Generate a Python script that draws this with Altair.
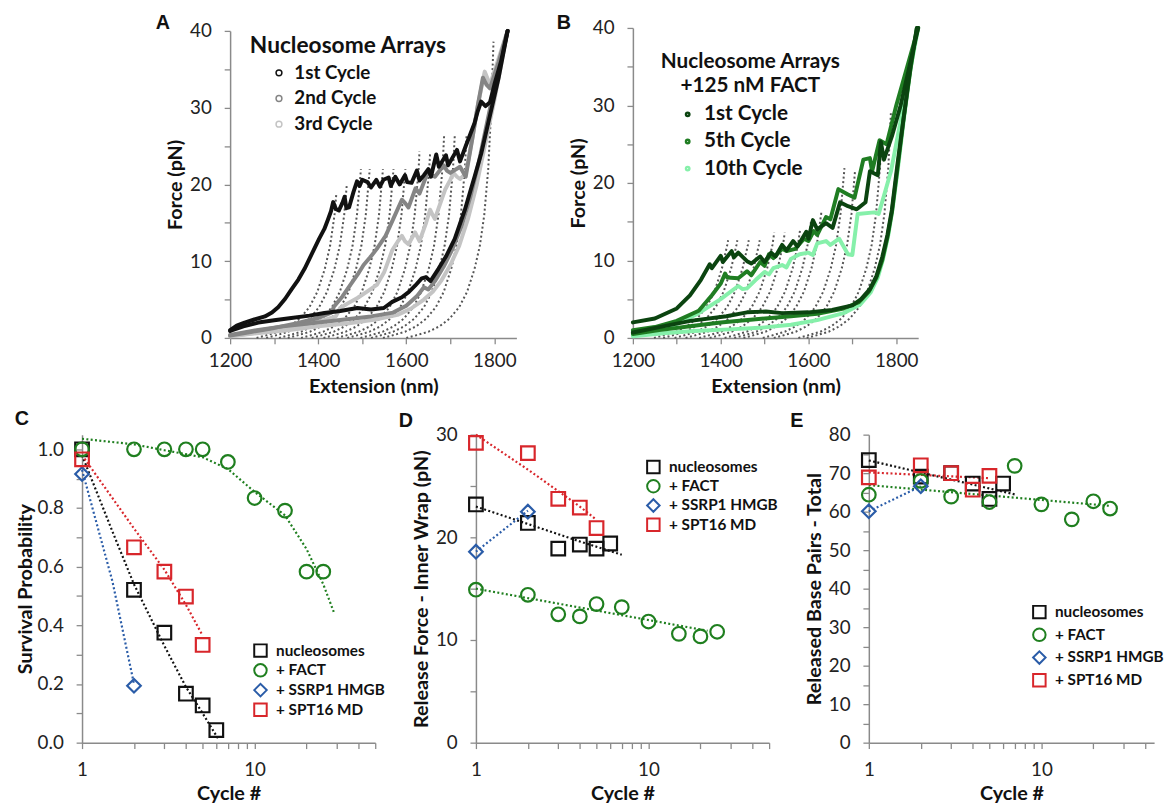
import altair as alt
import pandas as pd

FONT = "Lato"
W, H = 1160, 739

# ---------------- Panel A : force-extension, nucleosome arrays ----------------
A_SERIES = ["1st Cycle", "2nd Cycle", "3rd Cycle"]
A_COLORS = ["#111111", "#858585", "#c4c4c4"]

A1_S_EXT = [1200,1215,1233,1255,1279,1295,1309,1325,1339,1355,1369,1380,1391,1402,1414,1422,1429,1434,1440,1447,1455,1460,1464,1470,1480,1488,1494,1500,1512,1520,1532,1540,1548,1560,1565,1575,1585,1597,1602,1612,1624,1630,1640,1650,1656,1668,1674,1690,1695,1715,1722,1735,1745,1755,1762,1770,1780,1790,1800,1815,1830]
A1_S_F = [1.0,1.6,2.0,2.4,2.8,3.3,4.0,5.1,6.3,7.6,9.0,10.3,11.6,12.9,14.2,15.4,16.5,17.7,16.8,16.6,17.6,18.4,16.9,17.0,19.0,20.4,19.8,20.6,20.3,19.6,20.6,19.7,20.6,20.9,19.8,21.0,20.0,21.2,20.3,20.2,21.8,20.5,21.2,22.0,21.0,23.9,22.3,23.8,22.5,24.5,23.0,25.0,26.5,28.0,29.5,30.8,30.2,30.7,33.0,36.0,40.0]
A1_R_EXT = [1200,1230,1264,1300,1339,1380,1414,1450,1489,1520,1549,1568,1590,1606,1620,1635,1645,1655,1673,1690,1710,1733,1755,1770,1790,1810,1830]
A1_R_F = [0.9,1.5,2.0,2.3,2.6,2.9,3.25,3.5,3.9,3.7,3.9,4.7,5.3,6.0,6.8,7.75,7.9,7.4,9.0,10.6,12.9,16.7,21.0,24.0,29.0,34.0,40.0]
A2_S_EXT = [1200,1250,1300,1350,1400,1430,1436,1455,1473,1490,1503,1518,1533,1553,1572,1590,1597,1605,1621,1630,1651,1658,1665,1685,1692,1700,1722,1735,1750,1763,1774,1782,1790,1810,1830]
A2_S_F = [0.3,0.8,1.3,1.9,2.6,3.3,4.1,5.4,6.9,8.3,9.5,10.5,11.6,13.3,15.7,18.0,17.6,17.0,19.5,18.8,21.9,21.2,21.0,22.5,21.8,21.5,22.3,21.0,26.0,30.5,33.9,33.0,32.5,36.0,40.0]
A2_R_EXT = [1200,1260,1320,1400,1460,1520,1570,1600,1625,1640,1650,1665,1685,1705,1725,1745,1765,1785,1805,1830]
A2_R_F = [0.4,1.0,1.5,2.0,2.4,2.8,3.3,4.2,5.5,6.6,6.3,7.4,9.3,11.6,14.5,18.3,23.0,28.5,34.0,40.0]
A3_S_EXT = [1200,1250,1300,1350,1400,1440,1450,1470,1489,1510,1533,1550,1568,1580,1590,1597,1605,1620,1630,1645,1654,1660,1665,1677,1688,1700,1707,1715,1722,1735,1750,1763,1778,1790,1810,1830]
A3_S_F = [0.2,0.6,1.0,1.5,2.1,2.8,3.9,4.6,5.2,6.0,6.9,8.6,11.4,12.5,13.3,12.6,12.2,13.75,12.6,15.0,16.7,16.0,15.5,17.5,19.3,20.6,21.5,21.0,20.7,21.4,26.0,30.5,34.7,33.0,36.5,40.0]
A3_R_EXT = [1200,1260,1330,1400,1470,1530,1580,1610,1640,1660,1680,1700,1720,1740,1760,1780,1800,1815,1830]
A3_R_F = [0.2,0.6,1.0,1.5,1.9,2.4,3.0,3.8,5.0,6.0,7.5,9.5,12.0,15.5,20.0,25.5,31.0,35.5,40.0]

# dotted model curves: one shape, plus each curve's shift and top
BASE_F = [0, 0.3, 0.8, 1.5, 2.5, 4, 6, 9, 12, 16, 22, 30, 38.6]
BASE_X = [1600, 1620, 1650, 1675, 1698, 1720, 1738, 1755, 1767, 1777, 1786, 1793, 1798]
A_DOT_SHIFT = [0, -53, -80, -104, -134, -158, -188, -215, -239, -269, -289, -318, -340]
A_DOT_TOP_X = [1798, 1737, 1710, 1686, 1654, 1630, 1598, 1571, 1547, 1517, 1497, 1465, 1441]
A_DOT_TOP_F = [38.6, 26.6, 26.3, 26.5, 24.0, 24.3, 22.0, 22.0, 22.0, 22.0, 22.0, 20.0, 18.7]

# ---------------- Panel B : + FACT ----------------
B_SERIES = ["1st  Cycle", "5th Cycle", "10th Cycle"]
B_COLORS = ["#0b4410", "#1f7d22", "#86f0aa"]

B1_S_EXT = [1200,1250,1300,1330,1355,1375,1380,1400,1405,1425,1430,1440,1460,1470,1490,1500,1515,1525,1540,1550,1565,1575,1595,1600,1610,1620,1640,1655,1672,1690,1710,1730,1740,1758,1765,1772,1790,1810,1830,1850]
B1_S_F = [2.0,2.5,3.8,5.5,7.5,9.5,9.0,10.6,9.8,11.2,10.4,11.0,9.9,9.6,10.5,9.8,11.0,10.5,12.0,11.3,12.5,11.8,13.7,12.8,15.2,14.0,14.8,14.2,17.5,17.0,16.6,17.5,21.5,21.0,25.3,23.0,26.0,30.0,35.0,40.0]
B1_R_EXT = [1200,1260,1331,1413,1460,1503,1540,1600,1654,1700,1720,1740,1755,1768,1780,1790,1803,1818,1833,1847]
B1_R_F = [0.7,1.4,2.2,2.8,3.3,3.4,3.2,3.3,3.6,4.2,5.0,6.3,8.0,10.4,13.3,16.5,22.5,28.9,35.3,40.0]
B5_S_EXT = [1200,1250,1300,1350,1380,1400,1410,1415,1440,1460,1470,1490,1500,1510,1520,1540,1550,1570,1590,1600,1612,1620,1640,1650,1668,1690,1705,1725,1740,1745,1762,1778,1800,1825,1850]
B5_S_F = [1.0,1.4,2.2,3.5,5.5,7.0,8.3,7.8,7.7,8.6,8.1,9.8,9.3,10.8,10.3,11.5,11.2,11.5,12.8,12.5,13.8,13.3,15.6,15.3,19.2,18.5,18.1,23.0,23.2,21.5,25.5,25.0,30.0,35.0,40.0]
B5_R_EXT = [1200,1260,1330,1400,1480,1560,1620,1680,1715,1738,1755,1768,1780,1790,1802,1816,1832,1847]
B5_R_F = [0.5,1.0,1.5,2.0,2.4,2.8,3.1,3.8,4.6,6.0,7.8,10.0,13.0,16.2,21.5,28.0,34.5,40.0]
B10_S_EXT = [1200,1250,1300,1350,1400,1440,1450,1460,1480,1500,1510,1520,1540,1550,1560,1580,1600,1610,1620,1640,1650,1670,1690,1700,1712,1750,1760,1788,1810,1830,1850]
B10_S_F = [0.3,1.0,1.8,3.2,5.0,6.7,6.3,6.4,7.5,8.5,8.2,9.0,9.4,9.1,10.2,10.8,11.0,10.7,12.2,12.5,12.0,12.8,10.8,10.7,16.0,16.2,16.0,21.5,28.0,34.0,40.0]
B10_R_EXT = [1200,1270,1339,1420,1489,1560,1620,1680,1718,1742,1758,1770,1782,1792,1804,1818,1833,1848]
B10_R_F = [0.2,0.6,0.9,1.1,1.3,1.7,2.3,3.2,4.3,5.9,7.8,10.2,13.3,16.8,22.0,28.5,35.0,40.0]

B_DOT_SHIFT = [-352, -331, -305, -280, -249, -225, -191, -169, -148, -104, -79, -23, -4]
B_DOT_TOP_X = [1417, 1438, 1464, 1489, 1522, 1546, 1581, 1606, 1629, 1682, 1706, 1765, 1788]
B_DOT_TOP_F = [12.6, 12.6, 12.6, 12.6, 13.6, 13.6, 14.0, 15.1, 16.2, 21.9, 21.5, 24.5, 29.3]

# ---------------- Panels C, D, E ----------------
SERIES = ["nucleosomes", "+ FACT", "+ SSRP1 HMGB", "+ SPT16 MD"]
S_COLORS = ["#111111", "#1f7f1f", "#2a5ca8", "#d8262b"]
S_SHAPES = ["square", "circle", "diamond", "square"]

NUC_X = [1, 2, 3, 4, 5, 6]
FACT_X = [1, 2, 3, 4, 5, 7, 10, 15, 20, 25]
SSRP_X = [1, 2]
SPT_X = [1, 2, 3, 4, 5]

C_NUC = [1.0, 0.521, 0.375, 0.167, 0.127, 0.043]
C_FACT = [1.0, 1.0, 1.0, 1.0, 1.0, 0.957, 0.834, 0.791, 0.583, 0.583]
C_SSRP = [0.916, 0.194]
C_SPT = [0.966, 0.666, 0.583, 0.498, 0.333]
C_FIT = {
    "nucleosomes": ([1, 1.5, 2, 3, 4, 5, 6.2], [0.98, 0.72, 0.54, 0.33, 0.19, 0.10, 0.01]),
    "+ FACT": ([1, 2, 3, 5, 7, 10, 15, 20, 25, 29], [1.036, 1.017, 0.997, 0.973, 0.933, 0.855, 0.775, 0.66, 0.54, 0.44]),
    "+ SSRP1 HMGB": ([1, 1.5, 2], [0.93, 0.55, 0.2]),
    "+ SPT16 MD": ([1, 2, 3, 4, 5], [0.98, 0.73, 0.59, 0.47, 0.365]),
}

D_NUC = [23.2, 21.4, 18.9, 19.3, 18.9, 19.4]
D_FACT = [14.9, 14.4, 12.5, 12.3, 13.5, 13.2, 11.8, 10.6, 10.35, 10.8]
D_SSRP = [18.6, 22.5]
D_SPT = [29.2, 28.2, 23.75, 22.9, 20.9]
D_FIT = {
    "nucleosomes": ([1, 2, 4, 7], [23.0, 21.3, 19.6, 18.3]),
    "+ FACT": ([1, 22], [15.0, 10.9]),
    "+ SSRP1 HMGB": ([1, 2], [18.6, 22.6]),
    "+ SPT16 MD": ([1, 2, 3, 4, 5], [30.0, 26.6, 24.5, 23.0, 21.7]),
}

E_FACT_X = [1, 2, 3, 5, 7, 10, 15, 20, 25]
E_NUC = [73.4, 69.1, 70.0, 67.3, 63.3, 67.3]
E_FACT = [64.4, 68.0, 63.9, 62.5, 71.9, 61.9, 58.0, 62.7, 60.8]
E_SSRP = [60.1, 66.6]
E_SPT = [68.9, 72.05, 70.0, 65.7, 69.3]
E_FIT = {
    "nucleosomes": ([1, 7], [73.3, 64.5]),
    "+ FACT": ([1, 25], [66.9, 61.5]),
    "+ SSRP1 HMGB": ([1, 2], [60.1, 66.6]),
    "+ SPT16 MD": ([1, 5], [70.2, 68.7]),
}


# ---------------- helpers ----------------
def trace_df(parts):
    frames = []
    for series, seg, ext, force in parts:
        frames.append(pd.DataFrame({"ext": ext, "force": force, "series": series,
                                    "seg": seg, "i": list(range(len(ext)))}))
    return pd.concat(frames, ignore_index=True)


def dotted_df(shifts, top_x, top_f, prefix):
    rows = []
    for k, (sh, tx, tf) in enumerate(zip(shifts, top_x, top_f)):
        pts = [(bx + sh, bf) for bx, bf in zip(BASE_X, BASE_F) if bf < tf] + [(tx, tf)]
        for j, (x, f) in enumerate(pts):
            rows.append({"ext": x, "force": f, "curve": f"{prefix}{k}", "i": j})
    return pd.DataFrame(rows)


def points_df(xs_list, ys_list):
    frames = []
    for name, xs, ys in zip(SERIES, xs_list, ys_list):
        frames.append(pd.DataFrame({"cycle": xs, "val": ys, "series": name}))
    return pd.concat(frames, ignore_index=True)


AX = dict(domainColor="#8a8a8a", domainWidth=1.5, tickColor="#8a8a8a", tickWidth=1.3, tickSize=6,
          labelFont=FONT, labelFontSize=19, labelColor="#222222", labelFlush=False, labelOverlap=False,
          titleFont=FONT, titleFontSize=20, titleFontWeight="bold", titleColor="#111111", grid=False)


def text_layer(txt, x, y, size, align="center", font=FONT):
    return alt.Chart(pd.DataFrame({"t": [txt]})).mark_text(
        font=font, fontSize=size, fontWeight="bold", align=align, baseline="middle", color="#111111"
    ).encode(text="t:N", x=alt.value(x), y=alt.value(y))


def fe_panel(left, right, top, dots, traces, series, colors, legend, letter, heads):
    sx = alt.Scale(domain=[1200, 1850], range=[left, right], nice=False, zero=False)
    sy = alt.Scale(domain=[0, 40], range=[329, top], nice=False, zero=False)
    ax_x = alt.Axis(orient="bottom", offset=329 - H, values=list(range(1200, 1801, 100)), format="d",
                    labelExpr="datum.value % 200 === 0 ? datum.label : ''", title="Extension (nm)",
                    labelPadding=8, titlePadding=6, **AX)
    ax_y = alt.Axis(orient="left", offset=-left, values=list(range(0, 41, 5)), format="d",
                    labelExpr="datum.value % 10 === 0 ? datum.label : ''", title="Force (pN)",
                    labelPadding=13, titlePadding=4, **AX)
    dot = alt.Chart(dots).mark_line(color="#555555", strokeWidth=2, strokeDash=[2, 2.6]).encode(
        x=alt.X("ext:Q", scale=sx, axis=ax_x),
        y=alt.Y("force:Q", scale=sy, axis=ax_y),
        detail="curve:N", order="i:Q")
    tr = alt.Chart(traces).mark_line(strokeWidth=4, strokeJoin="round", strokeCap="round").encode(
        x=alt.X("ext:Q", scale=sx, axis=ax_x),
        y=alt.Y("force:Q", scale=sy, axis=ax_y),
        color=alt.Color("series:N", scale=alt.Scale(domain=series, range=colors), legend=legend),
        detail="seg:N", order="i:Q")
    layers = [dot, tr, text_layer(letter[0], letter[1], letter[2], 20, font="Liberation Sans")]
    for h in heads:
        layers.append(text_layer(*h))
    return alt.layer(*layers)


def cyc_panel(left, domain_max, ymax, yvals, ylab_expr, ytitle, pts, fits, legend, letter, ytp):
    import math
    width = 174.8 * math.log10(domain_max)
    sx = alt.Scale(type="log", domain=[1, domain_max], range=[left, left + width], nice=False, zero=False)
    sy = alt.Scale(domain=[0, ymax], range=[739, 427], nice=False, zero=False)
    xv = [1, 2, 3, 4, 5, 6, 7, 8, 9, 10, 20, 30, 40, 50]
    xv = [v for v in xv if v <= domain_max]
    ax_x = alt.Axis(orient="bottom", offset=0, values=xv,
                    labelExpr="datum.value === 1 ? '1' : (datum.value === 10 ? '10' : '')",
                    title="Cycle #", labelPadding=12, titlePadding=5, **AX)
    ax_y = alt.Axis(orient="left", offset=-left, values=yvals, labelExpr=ylab_expr, title=ytitle,
                    labelPadding=13, titlePadding=ytp, **AX)
    layers = []
    for name, col in zip(SERIES, S_COLORS):
        xs, ys = fits[name]
        fd = pd.DataFrame({"cycle": xs, "val": ys, "i": list(range(len(xs)))})
        layers.append(alt.Chart(fd).mark_line(color=col, strokeWidth=2.2, strokeDash=[2, 2.4]).encode(
            x=alt.X("cycle:Q", scale=sx, axis=ax_x),
            y=alt.Y("val:Q", scale=sy, axis=ax_y),
            order="i:Q"))
    pt = alt.Chart(pts).mark_point(filled=False, strokeWidth=2.2, size=190, opacity=1).encode(
        x=alt.X("cycle:Q", scale=sx, axis=ax_x),
        y=alt.Y("val:Q", scale=sy, axis=ax_y),
        color=alt.Color("series:N", scale=alt.Scale(domain=SERIES, range=S_COLORS), legend=legend),
        shape=alt.Shape("series:N", scale=alt.Scale(domain=SERIES, range=S_SHAPES), legend=legend))
    layers.append(pt)
    layers.append(text_layer(letter[0], letter[1], letter[2], 20, font="Liberation Sans"))
    return alt.layer(*layers)


def cyc_legend(x, y, rowpad):
    return alt.Legend(orient="none", legendX=x, legendY=y, title=None, symbolSize=160,
                      symbolStrokeWidth=2, labelFont=FONT, labelFontSize=15.5, labelFontWeight="bold",
                      labelColor="#111111", labelOffset=8, rowPadding=rowpad, padding=0)


# ---------------- build ----------------
A_tr = trace_df([
    ("3rd Cycle", "3s", A3_S_EXT, A3_S_F), ("3rd Cycle", "3r", A3_R_EXT, A3_R_F),
    ("2nd Cycle", "2s", A2_S_EXT, A2_S_F), ("2nd Cycle", "2r", A2_R_EXT, A2_R_F),
    ("1st Cycle", "1s", A1_S_EXT, A1_S_F), ("1st Cycle", "1r", A1_R_EXT, A1_R_F),
])
B_tr = trace_df([
    ("10th Cycle", "10s", B10_S_EXT, B10_S_F), ("10th Cycle", "10r", B10_R_EXT, B10_R_F),
    ("5th Cycle", "5s", B5_S_EXT, B5_S_F), ("5th Cycle", "5r", B5_R_EXT, B5_R_F),
    ("1st  Cycle", "1s", B1_S_EXT, B1_S_F), ("1st  Cycle", "1r", B1_R_EXT, B1_R_F),
])

legA = alt.Legend(orient="none", legendX=265, legendY=51, title=None, symbolType="circle", symbolSize=35,
                  symbolStrokeWidth=1.5, labelFont=FONT, labelFontSize=19, labelFontWeight="bold",
                  labelColor="#111111", labelOffset=6, rowPadding=6, padding=0)
legB = alt.Legend(orient="none", legendX=678, legendY=92, title=None, symbolType="circle", symbolSize=6,
                  symbolStrokeWidth=3.5, labelFont=FONT, labelFontSize=21, labelFontWeight="bold",
                  labelColor="#111111", labelOffset=6, rowPadding=5.5, padding=0)

pA = fe_panel(225, 515, 18, dotted_df(A_DOT_SHIFT, A_DOT_TOP_X, A_DOT_TOP_F, "a"), A_tr,
              A_SERIES, A_COLORS, legA, ("A", 157, 10),
              [("Nucleosome Arrays", 245, 33, 23, "left")])
pB = fe_panel(633, 922, 15, dotted_df(B_DOT_SHIFT, B_DOT_TOP_X, B_DOT_TOP_F, "b"), B_tr,
              B_SERIES, B_COLORS, legB, ("B", 563, 10),
              [("Nucleosome Arrays", 752, 50, 21, "center"), ("+125 nM FACT", 752, 74, 21, "center")])

C_pts = points_df([NUC_X, FACT_X, SSRP_X, SPT_X], [C_NUC, C_FACT, C_SSRP, C_SPT])
D_pts = points_df([NUC_X, FACT_X, SSRP_X, SPT_X], [D_NUC, D_FACT, D_SSRP, D_SPT])
E_pts = points_df([NUC_X, E_FACT_X, SSRP_X, SPT_X], [E_NUC, E_FACT, E_SSRP, E_SPT])

pC = cyc_panel(75, 50, 1.05, [round(i * 0.1, 1) for i in range(11)],
               "round(datum.value * 10) % 2 === 0 ? format(datum.value, '.1f') : ''",
               "Survival Probability", C_pts, C_FIT, cyc_legend(248, 638, -2), ("C", 14, 411), 2)
pD = cyc_panel(474, 50, 30, list(range(0, 31, 5)),
               "datum.value % 10 === 0 ? datum.label : ''",
               "Release Force - Inner Wrap (pN)", D_pts, D_FIT, cyc_legend(646, 452, -2.5), ("D", 403, 413), 4)
pE = cyc_panel(872, 45, 80, list(range(0, 81, 5)),
               "datum.value % 10 === 0 ? datum.label : ''",
               "Released Base Pairs - Total", E_pts, E_FIT, cyc_legend(1037, 599, 1), ("E", 799, 413), 4)

chart = alt.layer(pA, pB, pC, pD, pE).resolve_scale(
    x="independent", y="independent", color="independent", shape="independent"
).resolve_axis(x="independent", y="independent").resolve_legend(
    color="independent", shape="independent"
).properties(width=W, height=H, padding=0).configure_view(stroke=None)

chart.save("out.html", embed_options={"renderer": "svg", "actions": False})
